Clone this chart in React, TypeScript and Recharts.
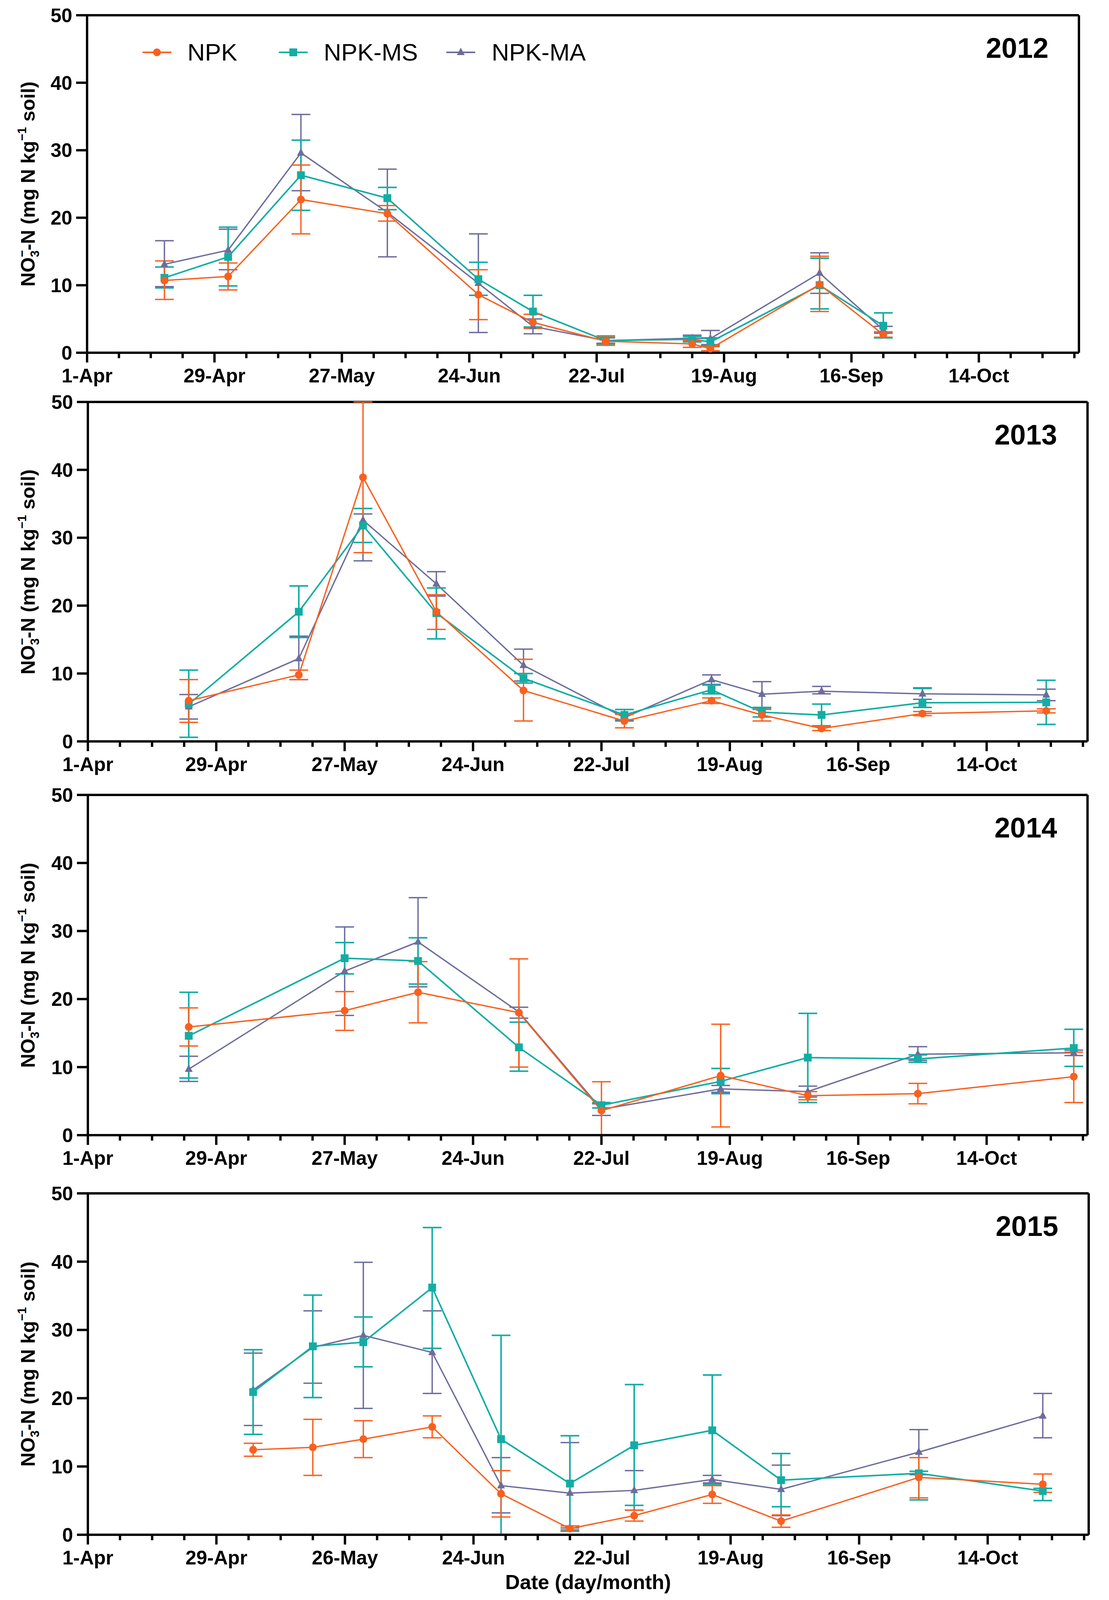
import React from "react";
import { LineChart, Line, XAxis, YAxis, ErrorBar, ReferenceLine } from "recharts";

const FONT = '"Liberation Sans", Arial, Helvetica, sans-serif';

const ORANGE = "#F9601F";
const TEAL = "#13ADA4";
const SLATE = "#6D6D9C";

// the photo only shows ~4096px of height, so vertical layout is squeezed to fit
const SY = 4096 / 5192;
const vy = (v: number) => Math.round(v * SY);

// tick positions: days after 1 April, one every week
const weekTicks = [
  0, 7, 14, 21, 28, 35, 42, 49, 56, 63, 70, 77, 84, 91, 98, 105, 112, 119, 126,
  133, 140, 147, 154, 161, 168, 175, 182, 189, 196, 203, 210, 217,
];
const dateLabels = ["1-Apr", "29-Apr", "27-May", "24-Jun", "22-Jul", "19-Aug", "16-Sep", "14-Oct"];
const dateLabels2015 = ["1-Apr", "29-Apr", "26-May", "24-Jun", "22-Jul", "19-Aug", "16-Sep", "14-Oct"];
const yTicks = [0, 10, 20, 30, 40, 50];

// ---- 2012 ----
const days2012 = [17, 31, 47, 66, 86, 98, 114, 133, 137, 161, 175];
const npk2012 = [10.7, 11.3, 22.7, 20.6, 8.6, 4.5, 1.7, 1.3, 0.6, 10.1, 2.7];
const npkLo2012 = [7.9, 9.3, 17.6, 19.5, 4.9, 3.6, 1.1, 0.8, 0.3, 6.1, 2.3];
const npkHi2012 = [13.6, 13.3, 27.8, 21.8, 12.3, 5.7, 2.5, 1.8, 0.9, 14.3, 3.1];
const ms2012 = [11.1, 14.2, 26.3, 22.9, 10.9, 6.1, 1.8, 2.0, 1.6, 10.0, 4.0];
const msLo2012 = [9.6, 9.9, 21.1, 21.2, 8.5, 3.8, 1.3, 1.6, 1.0, 6.5, 2.2];
const msHi2012 = [12.7, 18.6, 31.5, 24.5, 13.4, 8.5, 2.3, 2.4, 2.2, 14.0, 5.9];
const ma2012 = [13.1, 15.2, 29.6, 20.8, 10.3, 3.9, 1.8, 2.15, 2.1, 11.8, 3.4];
const maLo2012 = [9.8, 12.3, 24.0, 14.2, 3.0, 2.8, 1.4, 1.8, 1.2, 8.8, 2.9];
const maHi2012 = [16.6, 18.3, 35.3, 27.2, 17.6, 5.0, 2.2, 2.6, 3.3, 14.8, 3.9];

// ---- 2013 ----
const days2013 = [22, 46, 60, 76, 95, 117, 136, 147, 160, 182, 209];
const npk2013 = [6.0, 9.8, 38.9, 19.1, 7.5, 3.0, 6.0, 3.9, 1.9, 4.1, 4.5];
const npkLo2013 = [2.8, 9.1, 27.8, 16.5, 3.0, 2.0, 5.6, 3.0, 1.6, 3.8, 4.2];
const npkHi2013 = [9.1, 10.5, 50.0, 21.6, 12.1, 4.0, 6.4, 4.7, 2.2, 4.4, 4.8];
const ms2013 = [5.5, 19.1, 31.8, 18.9, 9.3, 3.9, 7.6, 4.3, 3.9, 5.7, 5.75];
const msLo2013 = [0.6, 15.3, 29.3, 15.1, 8.6, 3.2, 7.0, 3.6, 2.3, 5.0, 2.5];
const msHi2013 = [10.5, 22.9, 34.3, 22.6, 10.0, 4.7, 8.3, 5.0, 5.5, 7.8, 9.0];
const ma2013 = [5.1, 12.2, 32.6, 23.2, 11.2, 3.5, 9.1, 6.95, 7.4, 7.0, 6.85];
const maLo2013 = [3.3, 9.1, 26.6, 21.4, 8.9, 3.0, 8.4, 4.9, 7.0, 6.2, 6.0];
const maHi2013 = [6.9, 15.5, 33.5, 25.0, 13.6, 4.0, 9.8, 8.8, 8.1, 7.9, 7.7];

// ---- 2014 ----
const days2014 = [22, 56, 72, 94, 112, 138, 157, 181, 215];
const npk2014 = [15.9, 18.3, 21.0, 18.0, 3.6, 8.75, 5.8, 6.1, 8.6];
const npkLo2014 = [13.1, 15.4, 16.5, 10.0, 0.0, 1.2, 5.2, 4.6, 4.8];
const npkHi2014 = [18.7, 21.1, 25.5, 25.9, 7.85, 16.3, 6.4, 7.6, 12.2];
const ms2014 = [14.6, 26.0, 25.6, 12.9, 4.4, 7.9, 11.4, 11.2, 12.8];
const msLo2014 = [8.4, 23.7, 22.2, 9.4, 4.0, 6.1, 4.8, 10.7, 10.1];
const msHi2014 = [21.0, 28.3, 29.0, 16.6, 4.8, 9.8, 17.9, 11.8, 15.55];
const ma2014 = [9.7, 24.1, 28.4, 18.1, 3.8, 6.8, 6.4, 11.9, 12.1];
const maLo2014 = [7.9, 17.6, 21.8, 17.2, 2.9, 6.3, 5.6, 11.0, 11.7];
const maHi2014 = [11.6, 30.6, 34.9, 18.8, 4.6, 7.3, 7.2, 13.0, 12.5];

// ---- 2015 ----
const days2015 = [36, 49, 60, 75, 90, 105, 119, 136, 151, 181, 208];
const npk2015 = [12.45, 12.8, 14.0, 15.8, 6.0, 0.9, 2.8, 5.9, 2.0, 8.4, 7.4];
const npkLo2015 = [11.5, 8.7, 11.3, 14.2, 2.6, 0.5, 2.0, 4.6, 1.1, 5.4, 6.2];
const npkHi2015 = [13.4, 16.9, 16.7, 17.4, 9.4, 1.3, 3.6, 7.2, 2.9, 11.3, 8.9];
const ms2015 = [20.9, 27.6, 28.2, 36.2, 14.0, 7.5, 13.1, 15.3, 8.0, 9.0, 6.4];
const msLo2015 = [14.7, 20.1, 24.6, 27.3, 0.0, 0.7, 4.3, 7.4, 4.1, 5.1, 5.0];
const msHi2015 = [27.1, 35.1, 31.9, 45.0, 29.2, 14.5, 22.0, 23.4, 11.9, 9.3, 6.8];
const ma2015 = [21.2, 27.45, 29.2, 26.7, 7.2, 6.1, 6.5, 8.1, 6.65, 12.1, 17.4];
const maLo2015 = [16.0, 22.2, 18.5, 20.7, 3.2, 1.0, 3.6, 7.6, 2.8, 8.8, 14.2];
const maHi2015 = [26.6, 32.8, 39.9, 32.8, 11.3, 13.5, 9.4, 8.7, 10.2, 15.4, 20.7];

type Row = {
  day: number;
  npk: number; npkErr: [number, number];
  ms: number; msErr: [number, number];
  ma: number; maErr: [number, number];
};

const err = (v: number, lo: number, hi: number): [number, number] => [
  Math.max(0, v - lo),
  Math.max(0, hi - v),
];

function buildRows(
  days: number[],
  npk: number[], npkLo: number[], npkHi: number[],
  ms: number[], msLo: number[], msHi: number[],
  ma: number[], maLo: number[], maHi: number[]
): Row[] {
  return days.map((day, i) => ({
    day,
    npk: npk[i], npkErr: err(npk[i], npkLo[i], npkHi[i]),
    ms: ms[i], msErr: err(ms[i], msLo[i], msHi[i]),
    ma: ma[i], maErr: err(ma[i], maLo[i], maHi[i]),
  }));
}

const rows2012 = buildRows(days2012, npk2012, npkLo2012, npkHi2012, ms2012, msLo2012, msHi2012, ma2012, maLo2012, maHi2012);
const rows2013 = buildRows(days2013, npk2013, npkLo2013, npkHi2013, ms2013, msLo2013, msHi2013, ma2013, maLo2013, maHi2013);
const rows2014 = buildRows(days2014, npk2014, npkLo2014, npkHi2014, ms2014, msLo2014, msHi2014, ma2014, maLo2014, maHi2014);
const rows2015 = buildRows(days2015, npk2015, npkLo2015, npkHi2015, ms2015, msLo2015, msHi2015, ma2015, maLo2015, maHi2015);

// markers
const circleDot = (color: string) => (p: any) =>
  p.cx == null ? <g key={`c${p.index}`} /> : <circle key={`c${p.index}`} cx={p.cx} cy={p.cy} r={10} fill={color} />;
const squareDot = (color: string) => (p: any) =>
  p.cx == null ? <g key={`s${p.index}`} /> : <rect key={`s${p.index}`} x={p.cx - 10} y={p.cy - 10} width={20} height={20} fill={color} />;
const triangleDot = (color: string) => (p: any) =>
  p.cx == null ? (
    <g key={`t${p.index}`} />
  ) : (
    <polygon key={`t${p.index}`} points={`${p.cx},${p.cy - 12} ${p.cx - 10},${p.cy + 7} ${p.cx + 10},${p.cy + 7}`} fill={color} />
  );

const XTick = (props: any) => {
  const { x, y, payload, labels } = props;
  const major = payload.value % 28 === 0;
  return (
    <g>
      <line x1={x} x2={x} y1={y} y2={y + (major ? 25 : 14)} stroke="#000" strokeWidth={6} />
      {major && (
        <text x={x} y={y + 76} textAnchor="middle" fontFamily={FONT} fontWeight="bold" fontSize={50} fill="#000">
          {labels[payload.value / 28]}
        </text>
      )}
    </g>
  );
};

type PanelProps = {
  year: string;
  rows: Row[];
  labels: string[];
  left: number;
  right: number;
  top: number;
  bottom: number;
};

function Panel({ year, rows, labels, left, right, top, bottom }: PanelProps) {
  const mTop = 50;
  const xAxisH = 100;
  const width = right + 40;
  const height = bottom - top + mTop + xAxisH;
  return (
    <>
      <div style={{ position: "absolute", left: 0, top: top - mTop }}>
        <LineChart width={width} height={height} data={rows} margin={{ top: mTop, right: 40, bottom: 0, left: 0 }}>
          <XAxis
            type="number"
            dataKey="day"
            domain={[0, 218]}
            ticks={weekTicks}
            interval={0}
            height={xAxisH}
            tickSize={0}
            tickMargin={0}
            tickLine={false}
            axisLine={{ stroke: "#000", strokeWidth: 6 }}
            tick={<XTick labels={labels} />}
          />
          <YAxis
            type="number"
            domain={[0, 50]}
            ticks={yTicks}
            interval={0}
            width={left}
            tickSize={28}
            tickMargin={10}
            axisLine={{ stroke: "#000", strokeWidth: 6 }}
            tickLine={{ stroke: "#000", strokeWidth: 6 }}
            tick={{ fontFamily: FONT, fontWeight: "bold", fontSize: 50, fill: "#000" }}
          />
          <ReferenceLine y={50} stroke="#000" strokeWidth={6} />
          <ReferenceLine x={218} stroke="#000" strokeWidth={6} />
          <Line type="linear" dataKey="ma" stroke={SLATE} strokeWidth={3.5} dot={triangleDot(SLATE)} activeDot={false} isAnimationActive={false}>
            <ErrorBar dataKey="maErr" width={24} strokeWidth={3.5} stroke={SLATE} direction="y" />
          </Line>
          <Line type="linear" dataKey="ms" stroke={TEAL} strokeWidth={4} dot={squareDot(TEAL)} activeDot={false} isAnimationActive={false}>
            <ErrorBar dataKey="msErr" width={24} strokeWidth={4} stroke={TEAL} direction="y" />
          </Line>
          <Line type="linear" dataKey="npk" stroke={ORANGE} strokeWidth={3.5} dot={circleDot(ORANGE)} activeDot={false} isAnimationActive={false}>
            <ErrorBar dataKey="npkErr" width={24} strokeWidth={3.5} stroke={ORANGE} direction="y" />
          </Line>
        </LineChart>
      </div>
      <div
        style={{
          position: "absolute",
          right: 2840 - (right - 78),
          top: top + 84,
          transform: "translateY(-50%)",
          fontFamily: FONT,
          fontWeight: "bold",
          fontSize: 72,
          lineHeight: 1,
          color: "#000",
        }}
      >
        {year}
      </div>
      <div
        style={{
          position: "absolute",
          left: 72,
          top: (top + bottom) / 2,
          transform: "translate(-50%, -50%) rotate(-90deg)",
          whiteSpace: "nowrap",
          fontFamily: FONT,
          fontWeight: "bold",
          fontSize: 50,
          lineHeight: 1.2,
          color: "#000",
        }}
      >
        NO
        <sup style={{ fontSize: "0.62em", lineHeight: 0, verticalAlign: "0.7em" }}>−</sup>
        <sub style={{ fontSize: "0.62em", lineHeight: 0, verticalAlign: "-0.35em", marginLeft: "-0.58em" }}>3</sub>
        -N (mg N kg
        <sup style={{ fontSize: "0.62em", lineHeight: 0, verticalAlign: "0.7em" }}>−1</sup> soil)
      </div>
    </>
  );
}

const legendItems = [
  { name: "NPK", color: ORANGE, shape: "circle", lineX: 365, textX: 480 },
  { name: "NPK-MS", color: TEAL, shape: "square", lineX: 714, textX: 829 },
  { name: "NPK-MA", color: SLATE, shape: "triangle", lineX: 1143, textX: 1259 },
];

function LegendSymbol({ color, shape }: { color: string; shape: string }) {
  return (
    <svg width={74} height={40} style={{ display: "block" }}>
      <line x1={0} x2={74} y1={20} y2={20} stroke={color} strokeWidth={4} />
      {shape === "circle" && <circle cx={37} cy={20} r={10} fill={color} />}
      {shape === "square" && <rect x={27} y={10} width={20} height={20} fill={color} />}
      {shape === "triangle" && <polygon points="37,8 27,27 47,27" fill={color} />}
    </svg>
  );
}

export default function App() {
  const legendY = vy(170);
  return (
    <div style={{ position: "absolute", left: 0, top: 0, width: 2840, height: 4096, background: "#fff", overflow: "hidden" }}>
      <Panel year="2012" rows={rows2012} labels={dateLabels} left={223} right={2763} top={vy(50)} bottom={vy(1144)} />
      <Panel year="2013" rows={rows2013} labels={dateLabels} left={225} right={2785} top={vy(1304)} bottom={vy(2406)} />
      <Panel year="2014" rows={rows2014} labels={dateLabels} left={225} right={2785} top={vy(2579)} bottom={vy(3683)} />
      <Panel year="2015" rows={rows2015} labels={dateLabels2015} left={225} right={2788} top={vy(3873)} bottom={vy(4980)} />

      {legendItems.map((it) => (
        <React.Fragment key={it.name}>
          <div style={{ position: "absolute", left: it.lineX, top: legendY - 20 }}>
            <LegendSymbol color={it.color} shape={it.shape} />
          </div>
          <div
            style={{
              position: "absolute",
              left: it.textX,
              top: legendY,
              transform: "translateY(-50%)",
              fontFamily: FONT,
              fontSize: 62,
              lineHeight: 1,
              color: "#000",
            }}
          >
            {it.name}
          </div>
        </React.Fragment>
      ))}

      <div
        style={{
          position: "absolute",
          left: 1506,
          top: vy(5134),
          transform: "translate(-50%, -50%)",
          whiteSpace: "nowrap",
          fontFamily: FONT,
          fontWeight: "bold",
          fontSize: 52,
          lineHeight: 1,
          color: "#000",
        }}
      >
        Date (day/month)
      </div>
    </div>
  );
}
